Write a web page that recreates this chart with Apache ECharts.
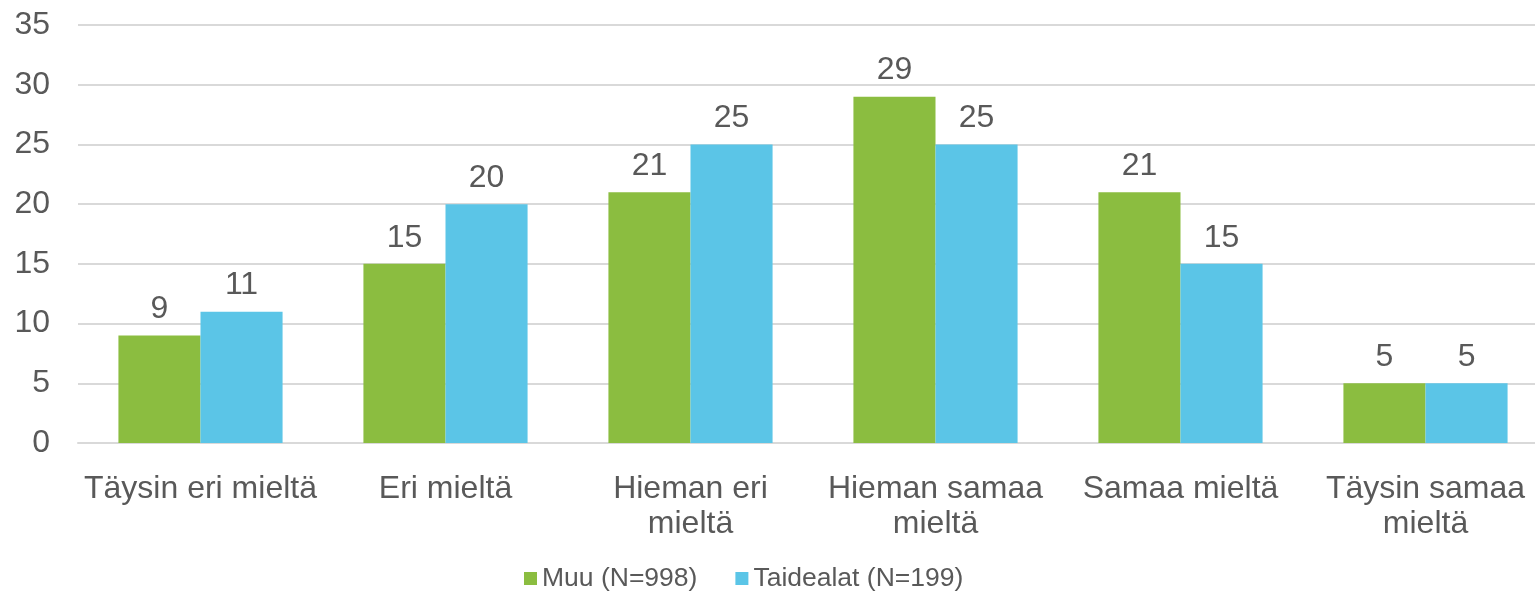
<!DOCTYPE html>
<html>
<head>
<meta charset="utf-8">
<script src="https://cdn.jsdelivr.net/npm/echarts@6/dist/echarts.min.js"></script>
<style>
    html, body { margin: 0; padding: 0; background: #fff; overflow: hidden; }
    /* plot runs past the right edge of the window, as in the reference crop */
    #chartBar { width: 1548px; height: 594px; }
</style>
</head>
<body>
<div id="chartBar"></div>
<script>
    // data
    var categories = ['Täysin eri mieltä', 'Eri mieltä', 'Hieman eri\nmieltä', 'Hieman samaa\nmieltä', 'Samaa mieltä', 'Täysin samaa\nmieltä'];
    var muu = [9, 15, 21, 29, 21, 5];
    var taidealat = [11, 20, 25, 25, 15, 5];
    var seriesNames = ['Muu (N=998)', 'Taidealat (N=199)'];

    var font = '"Liberation Sans", Arial, sans-serif';
    var textColor = '#595959';

    var chartBar = echarts.init(document.getElementById('chartBar'));
    chartBar.setOption({
        animation: false,
        textStyle: { fontFamily: font },
        grid: {
            left: 78,
            right: 0,
            top: 25,
            bottom: 151
        },
        legend: {
            left: 519,
            top: 560,
            itemWidth: 13,
            itemHeight: 13,
            itemGap: 38,
            icon: 'rect',
            textStyle: { fontFamily: font, fontSize: 26.5, color: textColor },
            data: seriesNames
        },
        xAxis: {
            type: 'category',
            data: categories,
            axisLine: { show: true, lineStyle: { color: '#d9d9d9', width: 2 } },
            axisTick: { show: false },
            axisLabel: {
                interval: 0,
                margin: 29,
                fontSize: 32,
                lineHeight: 35,
                color: textColor,
                fontFamily: font
            }
        },
        yAxis: {
            type: 'value',
            min: 0,
            max: 35,
            interval: 5,
            axisLine: { show: false },
            axisTick: { show: false },
            splitLine: { lineStyle: { color: '#d9d9d9', width: 2 } },
            axisLabel: {
                margin: 28,
                fontSize: 32,
                color: textColor,
                fontFamily: font
            }
        },
        series: [
            {
                name: seriesNames[0],
                type: 'bar',
                data: muu,
                barGap: '0%',
                barCategoryGap: '33%',
                itemStyle: { color: '#8bbd40' },
                label: {
                    show: true,
                    position: 'top',
                    distance: 10,
                    fontSize: 32,
                    color: textColor,
                    fontFamily: font
                }
            },
            {
                name: seriesNames[1],
                type: 'bar',
                data: taidealat,
                barGap: '0%',
                barCategoryGap: '33%',
                itemStyle: { color: '#5bc5e7' },
                label: {
                    show: true,
                    position: 'top',
                    distance: 10,
                    fontSize: 32,
                    color: textColor,
                    fontFamily: font
                }
            }
        ]
    });
</script>
</body>
</html>
